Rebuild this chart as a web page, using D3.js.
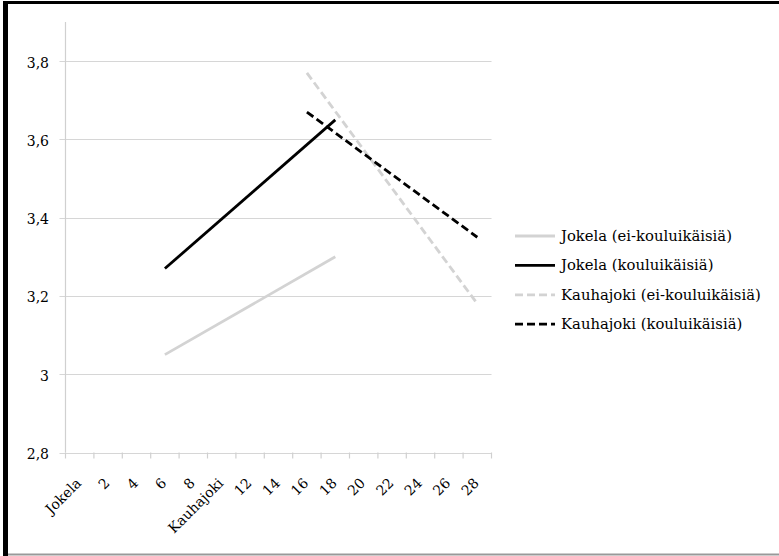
<!DOCTYPE html>
<html>
<head>
<meta charset="utf-8">
<script src="https://cdn.jsdelivr.net/npm/d3@7"></script>
<style>
  body { margin: 0; background: #fff; }
  text { font-family: "DejaVu Serif", serif; fill: #000; }
</style>
</head>
<body>
<script>
// x categories (band scale) and the four series
const categories = ["Jokela", "2", "4", "6", "8", "Kauhajoki", "12", "14", "16", "18", "20", "22", "24", "26", "28"];
const yTicks = [2.8, 3, 3.2, 3.4, 3.6, 3.8];

const seriesNames = ["Jokela (ei-kouluikäisiä)", "Jokela (kouluikäisiä)", "Kauhajoki (ei-kouluikäisiä)", "Kauhajoki (kouluikäisiä)"];
const jokelaEi = [{x: "6", y: 3.05}, {x: "18", y: 3.30}];
const jokelaKoulu = [{x: "6", y: 3.27}, {x: "18", y: 3.65}];
const kauhajokiEi = [{x: "16", y: 3.77}, {x: "28", y: 3.18}];
const kauhajokiKoulu = [{x: "16", y: 3.67}, {x: "28", y: 3.35}];

const W = 779, H = 556;
const svg = d3.select("body").append("svg").attr("width", W).attr("height", H);

// frame round the picture
svg.append("rect").attr("x", 0).attr("y", 0).attr("width", W).attr("height", H).attr("fill", "#fff");
svg.append("rect").attr("x", 3).attr("y", 1).attr("width", W - 3).attr("height", 3).attr("fill", "#000");
svg.append("rect").attr("x", 3).attr("y", 1).attr("width", 5).attr("height", H - 1).attr("fill", "#000");
svg.append("line").attr("x1", 8).attr("x2", W).attr("y1", 554.5).attr("y2", 554.5).attr("stroke", "#999").attr("stroke-width", 2);

const pLeft = 65.5, pRight = 491.5, pTop = 22, pBottom = 452.5;

const x = d3.scaleBand().domain(categories).range([pLeft, pRight]);
const y = d3.scaleLinear().domain([2.8, 3.9]).range([pBottom, pTop]);

// gridlines + y labels
const yAxis = svg.append("g");
yAxis.selectAll("line").data(yTicks).enter().append("line")
  .attr("x1", pLeft - 6).attr("x2", pRight)
  .attr("y1", d => Math.round(y(d)) + 0.5).attr("y2", d => Math.round(y(d)) + 0.5)
  .attr("stroke", "#d6d6d6").attr("stroke-width", 1.2);
yAxis.selectAll("text").data(yTicks).enter().append("text")
  .attr("x", 49).attr("y", d => y(d) + 6.5)
  .attr("text-anchor", "end").style("font-size", "14px")
  .text(d => d3.format(".1f")(d).replace(".0", "").replace(".", ","));

// vertical axis line
svg.append("line").attr("x1", pLeft).attr("x2", pLeft).attr("y1", pTop).attr("y2", pBottom)
  .attr("stroke", "#d0d0d0").attr("stroke-width", 1.2);

// x tick marks at band edges
const edges = categories.map(c => x(c)).concat([pRight]);
svg.append("g").selectAll("line").data(edges).enter().append("line")
  .attr("x1", d => d).attr("x2", d => d).attr("y1", pBottom).attr("y2", pBottom + 6)
  .attr("stroke", "#d0d0d0").attr("stroke-width", 1.2);

// rotated category labels
svg.append("g").selectAll("text").data(categories).enter().append("text")
  .attr("transform", d => "translate(" + (x(d) + x.bandwidth() / 2 - 1) + "," + (pBottom + 28) + ") rotate(-45)")
  .attr("text-anchor", "end").attr("dy", "0.35em").style("font-size", "14px")
  .text(d => d);

// series lines
const styles = [
  {data: jokelaEi, color: "#d3d3d3", dash: null},
  {data: jokelaKoulu, color: "#000", dash: null},
  {data: kauhajokiEi, color: "#d3d3d3", dash: "8,4"},
  {data: kauhajokiKoulu, color: "#000", dash: "8,4"}
];
const line = d3.line().x(d => x(d.x) + x.bandwidth() / 2).y(d => y(d.y));
styles.forEach(s => {
  svg.append("path").attr("d", line(s.data))
    .attr("fill", "none").attr("stroke", s.color).attr("stroke-width", 2.8)
    .attr("stroke-dasharray", s.dash);
});

// legend
const leg = svg.append("g").attr("transform", "translate(515,236)");
seriesNames.forEach((name, i) => {
  const g = leg.append("g").attr("transform", "translate(0," + (i * 29.4) + ")");
  g.append("line").attr("x1", 0).attr("x2", 40).attr("y1", 0).attr("y2", 0)
    .attr("stroke", styles[i].color).attr("stroke-width", 2.8)
    .attr("stroke-dasharray", styles[i].dash);
  g.append("text").attr("x", 46).attr("y", 5).style("font-size", "14.8px").text(name);
});
</script>
</body>
</html>
